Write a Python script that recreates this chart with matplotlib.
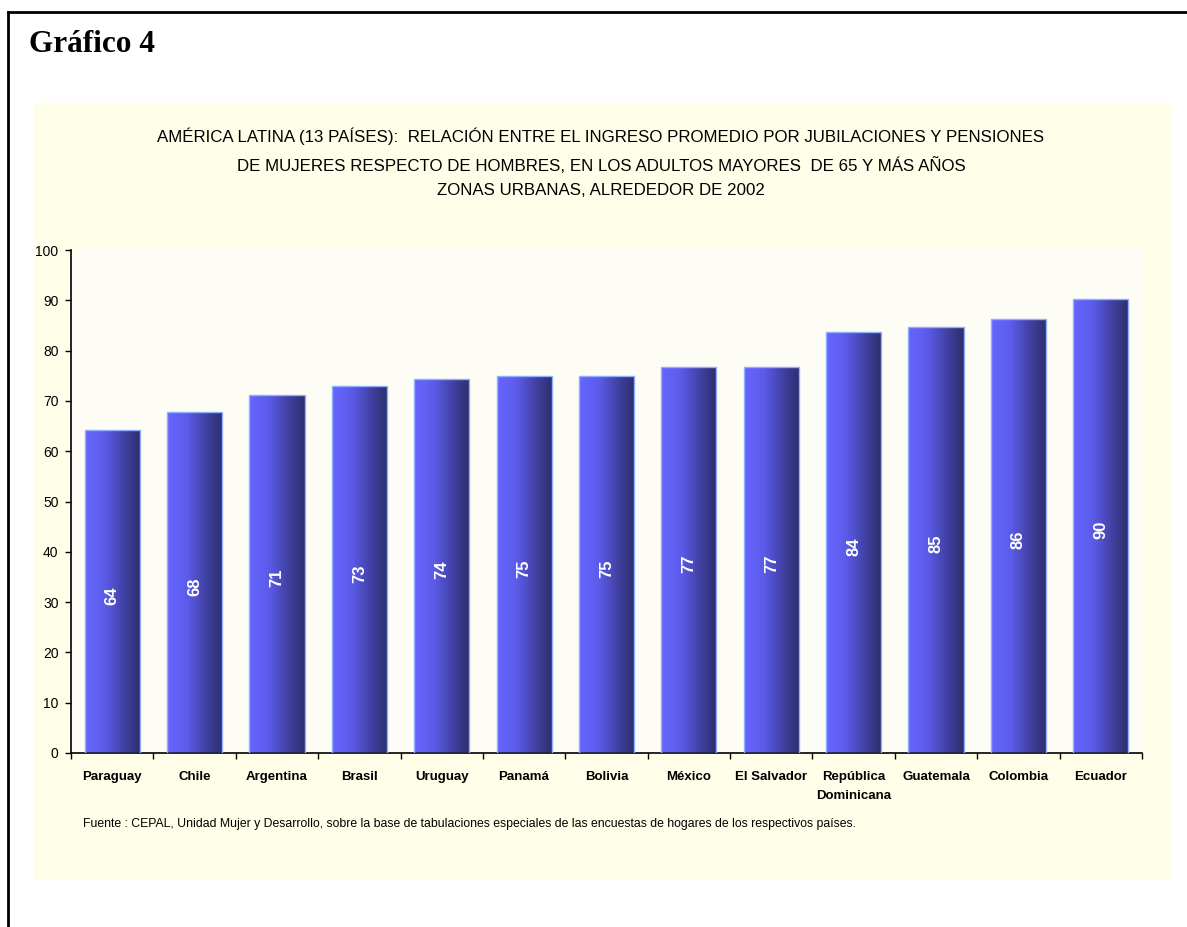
import numpy as np
import matplotlib
matplotlib.use("Agg")
import matplotlib.pyplot as plt
from matplotlib.patches import Rectangle
from matplotlib.lines import Line2D
from matplotlib.colors import LinearSegmentedColormap

countries = ["Paraguay", "Chile", "Argentina", "Brasil", "Uruguay", "Panamá", "Bolivia",
             "México", "El Salvador", "República\nDominicana", "Guatemala", "Colombia", "Ecuador"]
values = [64.2, 67.7, 71.2, 73.0, 74.4, 74.9, 74.9, 76.75, 76.75, 83.7, 84.7, 86.3, 90.3]
value_labels = ["64", "68", "71", "73", "74", "75", "75", "77", "77", "84", "85", "86", "90"]
yticks = [0, 10, 20, 30, 40, 50, 60, 70, 80, 90, 100]

title = ("AMÉRICA LATINA (13 PAÍSES):  RELACIÓN ENTRE EL INGRESO PROMEDIO POR JUBILACIONES Y PENSIONES\n"
         "DE MUJERES RESPECTO DE HOMBRES, EN LOS ADULTOS MAYORES  DE 65 Y MÁS AÑOS\n"
         "ZONAS URBANAS, ALREDEDOR DE 2002")
source = ("Fuente : CEPAL, Unidad Mujer y Desarrollo, sobre la base de tabulaciones especiales de las "
          "encuestas de hogares de los respectivos países.")

W, H = 1187, 927
fig = plt.figure(figsize=(W / 100, H / 100), dpi=100)
fig.patch.set_facecolor("white")

def fx(px):
    return px / W

def fy(py):
    return 1 - py / H

# outer frame (top and left)
fig.add_artist(Line2D([fx(8), fx(8)], [fy(12), fy(927)], color="black", lw=2, transform=fig.transFigure))
fig.add_artist(Line2D([fx(8), fx(1187)], [fy(12), fy(12)], color="black", lw=2, transform=fig.transFigure))

# cream panel
fig.add_artist(Rectangle((fx(34), fy(880)), fx(1172) - fx(34), fy(103) - fy(880),
                         transform=fig.transFigure, facecolor="#FFFEE8", edgecolor="none", zorder=0))

fig.text(fx(29), fy(44), "Gráfico 4", family="Liberation Serif", weight="bold",
         fontsize=22.5, ha="left", va="center")

fig.text(fx(601), fy(163), title, family="Liberation Sans", fontsize=12.2,
         ha="center", va="center", linespacing=1.8)

ax = fig.add_axes([fx(71), fy(753), fx(1142) - fx(71), fy(250) - fy(753)])
ax.set_facecolor("#FDFDF6")

x = np.arange(len(countries))
bars = ax.bar(x, values, width=0.67, facecolor="none", edgecolor="#8FB0FF", linewidth=1.0, zorder=3)

cmap = LinearSegmentedColormap.from_list(
    "grad", [(0.0, (0.40, 0.40, 1.0)), (0.35, (0.36, 0.36, 0.92)), (0.75, (0.24, 0.24, 0.60)),
             (1.0, (0.18, 0.18, 0.43))])
grad = np.linspace(0, 1, 256).reshape(1, -1)
for b in bars:
    x0, w, h = b.get_x(), b.get_width(), b.get_height()
    im = ax.imshow(grad, cmap=cmap, aspect="auto", extent=[x0, x0 + w, 0, h], zorder=2,
                   interpolation="bilinear")
    im.set_clip_path(b)

for xi, v, lab in zip(x, values, value_labels):
    ax.text(xi, v / 2 - 0.8, lab, rotation=90, color="white", weight="bold", family="Liberation Sans",
            fontsize=12, ha="center", va="center", zorder=4)

ax.set_xlim(-0.5, len(countries) - 0.5)
ax.set_ylim(0, 100)
ax.set_yticks(yticks)
ax.set_yticklabels([str(t) for t in yticks], family="Liberation Sans", fontsize=10)
ax.set_xticks(x)
ax.set_xticklabels(countries, family="Liberation Sans", weight="bold", fontsize=9.5, linespacing=1.75)
ax.tick_params(axis="x", length=0, pad=13)
ax.set_xticks(np.arange(len(countries) + 1) - 0.5, minor=True)
ax.tick_params(axis="x", which="minor", length=4, direction="out", width=1)
ax.tick_params(axis="y", length=4, direction="out", width=1, pad=5)
for s in ["top", "right"]:
    ax.spines[s].set_visible(False)
for s in ["left", "bottom"]:
    ax.spines[s].set_linewidth(1.2)

fig.text(fx(83), fy(824), source, family="Liberation Sans", fontsize=8.85, ha="left", va="center")

fig.savefig("out.png", dpi=100, facecolor="white")
